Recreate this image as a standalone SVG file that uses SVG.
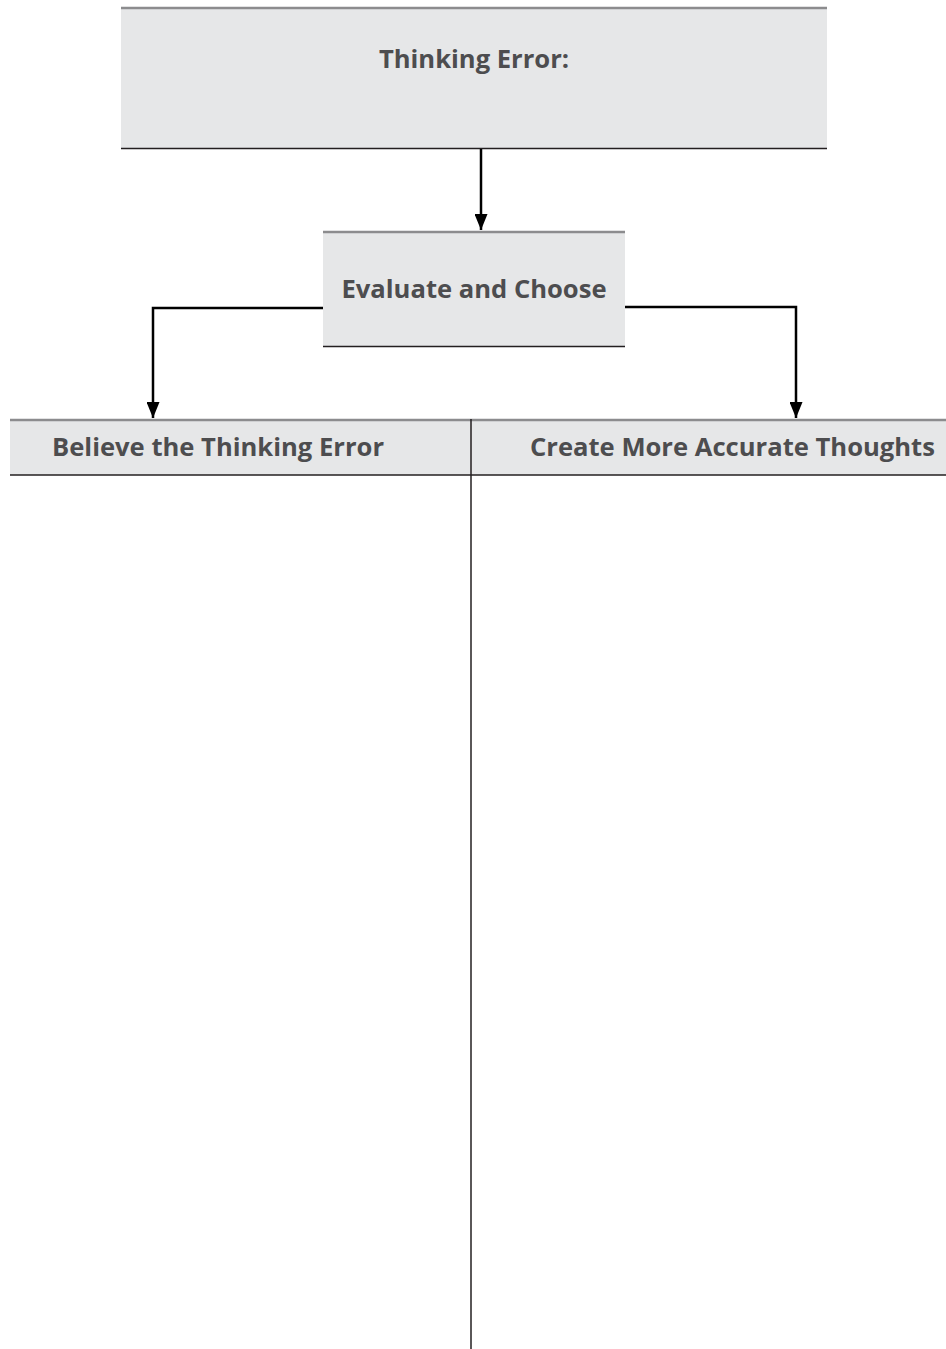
<svg xmlns="http://www.w3.org/2000/svg" width="946" height="1349" viewBox="0 0 946 1349">
<style>
.box{fill:#e6e7e8}
.top{stroke:#8c8c8e;stroke-width:2.5}
.bot{stroke:#231f20;stroke-width:1.5}
.lbl{font-family:"Open Sans","Liberation Sans",sans-serif;font-weight:700;font-size:25.6px;fill:#4d4d4f}
.conn{fill:none;stroke:#000;stroke-width:2.5}
</style>
<defs>
<marker id="ah" markerWidth="13" markerHeight="16" refX="6.5" refY="16" orient="0" markerUnits="userSpaceOnUse" viewBox="0 0 13 16">
<path d="M0,0 L13,0 L6.5,16 Z" fill="#000"/>
</marker>
</defs>
<rect width="946" height="1349" fill="#fff"/>
<g id="thinking-error">
<rect class="box" x="121" y="7" width="706" height="141"/>
<line class="top" x1="121" y1="8" x2="827" y2="8"/>
<line class="bot" x1="121" y1="148.5" x2="827" y2="148.5"/>
<text class="lbl" x="474" y="68" text-anchor="middle">Thinking Error:</text>
</g>
<g id="evaluate">
<rect class="box" x="323" y="231" width="302" height="115"/>
<line class="top" x1="323" y1="232" x2="625" y2="232"/>
<line class="bot" x1="323" y1="346.5" x2="625" y2="346.5"/>
<text class="lbl" x="474" y="298" text-anchor="middle">Evaluate and Choose</text>
</g>
<g id="table">
<rect class="box" x="10" y="419" width="936" height="56"/>
<line class="top" x1="10" y1="420" x2="946" y2="420"/>
<line class="bot" x1="10" y1="475" x2="946" y2="475"/>
<line x1="471" y1="419" x2="471" y2="1349" stroke="#231f20" stroke-width="1.5"/>
</g>
<g id="believe">
<text class="lbl" x="52" y="456">Believe the Thinking Error</text>
</g>
<g id="create">
<text class="lbl" x="530" y="456">Create More Accurate Thoughts</text>
</g>
<g id="connectors">
<path class="conn" d="M481,149 V230" marker-end="url(#ah)"/>
<path class="conn" d="M323,308 H153 V418" marker-end="url(#ah)"/>
<path class="conn" d="M625,307 H796 V418" marker-end="url(#ah)"/>
</g>
</svg>
